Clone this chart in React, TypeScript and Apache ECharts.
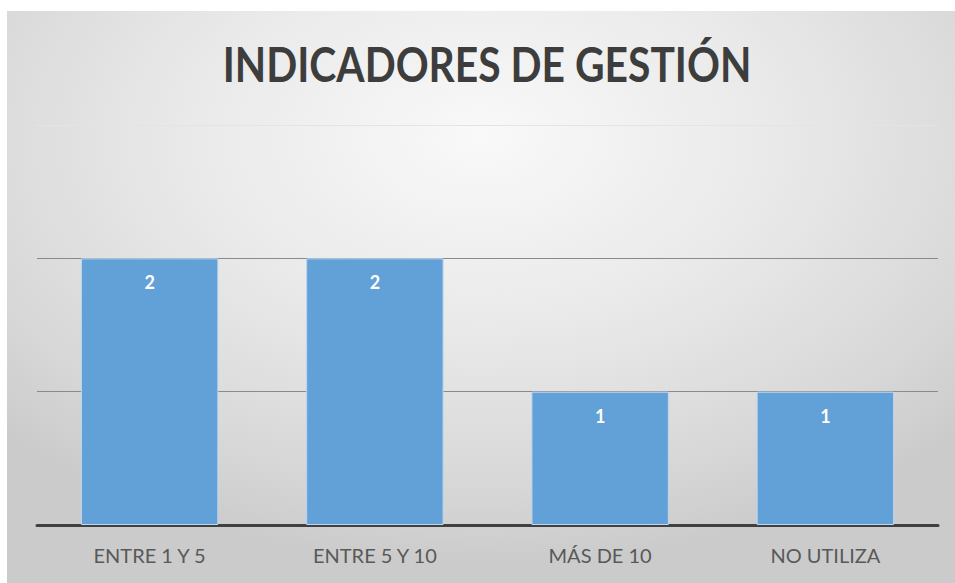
import React, { useEffect, useRef } from "react";
import * as echarts from "echarts";

const titleText = "INDICADORES DE GESTIÓN";
const categories = ["ENTRE 1 Y 5", "ENTRE 5 Y 10", "MÁS DE 10", "NO UTILIZA"];
const values = [2, 2, 1, 1];

export default function App() {
  const ref = useRef<HTMLDivElement>(null);
  useEffect(() => {
    if (!ref.current) return;
    const chart = echarts.init(ref.current, undefined, { renderer: "svg" });
    chart.setOption({
      animation: false,
      backgroundColor: "transparent",
      graphic: [
        {
          type: "text",
          x: 480,
          y: 52,
          scaleX: 0.85,
          style: {
            x: 0,
            y: 0,
            text: titleText,
            font: "bold 48px Lato, 'Open Sans', sans-serif",
            fill: "#3d3d3d",
            textAlign: "center",
            textVerticalAlign: "middle",
          },
        },
      ],
      grid: { left: 30, right: 17, top: 114, bottom: 58 },
      xAxis: {
        type: "category",
        data: categories,
        axisTick: { show: false },
        axisLine: { lineStyle: { color: "#404040", width: 3 } },
        axisLabel: {
          color: "#595959",
          fontSize: 20,
          fontFamily: "Lato, 'Open Sans', sans-serif",
          margin: 20,
        },
      },
      yAxis: {
        type: "value",
        min: 0,
        max: 3,
        interval: 1,
        axisLabel: { show: false },
        axisLine: { show: false },
        axisTick: { show: false },
        splitLine: {
          lineStyle: { color: ["#888888", "#8a8a8a", "#8a8a8a", "#e4e4e4"], width: 1 },
        },
      },
      series: [
        {
          type: "bar",
          data: values,
          barWidth: "61%",
          itemStyle: { color: "#62a0d8", borderColor: "#bcd6ef", borderWidth: 1 },
          label: {
            show: true,
            position: "insideTop",
            distance: 15,
            color: "#ffffff",
            fontSize: 18,
            fontWeight: "bold",
            fontFamily: "Lato, 'Open Sans', sans-serif",
          },
        },
      ],
    });
    return () => chart.dispose();
  }, []);
  return (
    <div
      style={{
        position: "absolute",
        left: 7,
        top: 11,
        width: 948,
        height: 572,
        background:
          "radial-gradient(ellipse 70% 75% at 50% 22%, #f9f9f9 0%, #e9e9e9 45%, #d8d8d8 80%, #cbcbcb 100%)",
      }}
    >
      <div ref={ref} style={{ width: 948, height: 572 }} />
    </div>
  );
}
